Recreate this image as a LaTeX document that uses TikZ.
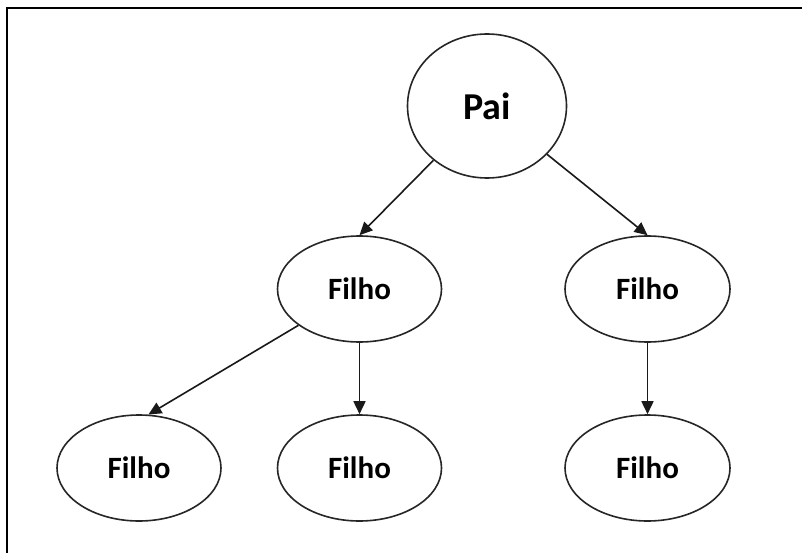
\documentclass[tikz,border=0pt]{standalone}
\usepackage{fontspec}
\setmainfont{Carlito}
\usetikzlibrary{shapes.geometric,arrows.meta}
\begin{document}
\begin{tikzpicture}[x=1pt,y=-1pt,
  nodebox/.style={ellipse,draw=black!85,line width=1.6pt,fill=white,inner sep=0pt,
     font=\bfseries\fontsize{31}{34}\selectfont},
  conn/.style={line width=1.6pt,draw=black!90,-{Triangle[length=13pt,width=12pt]}},
  frameline/.style={line width=2.2pt,draw=black}]
\useasboundingbox (0,0) rectangle (802,553);
\fill[white] (0,0) rectangle (802,553);
\draw[frameline] (7,553) -- (7,8) -- (802,8);
\node[nodebox,minimum width=159pt,minimum height=144pt,font=\bfseries\fontsize{38}{41}\selectfont] (pai) at (487,106) {Pai};
\node[nodebox,minimum width=164pt,minimum height=106pt] (ml) at (359.5,289) {Filho};
\node[nodebox,minimum width=165pt,minimum height=106pt] (mr) at (647.5,289) {Filho};
\node[nodebox,minimum width=164pt,minimum height=106pt] (bl) at (139,468) {Filho};
\node[nodebox,minimum width=164pt,minimum height=106pt] (bm) at (359.5,468) {Filho};
\node[nodebox,minimum width=165pt,minimum height=106pt] (br) at (647.5,468) {Filho};
\draw[conn] (pai) -- (ml.north);
\draw[conn] (pai) -- (mr.north);
\draw[conn] (ml) -- (bl.80);
\draw[conn] (ml) -- (bm);
\draw[conn] (mr) -- (br);
\end{tikzpicture}
\end{document}
